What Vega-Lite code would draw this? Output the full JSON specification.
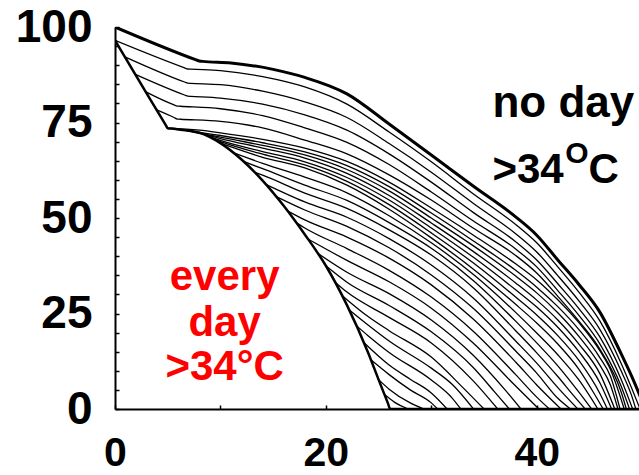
{
  "$schema": "https://vega.github.io/schema/vega-lite/v6.json",
  "width": 524,
  "height": 382,
  "autosize": {"type": "none"},
  "padding": {"left": 115, "top": 27, "right": 0, "bottom": 66},
  "background": "white",
  "config": {"view": {"stroke": null}, "font": "Liberation Sans"},
  "datasets": {
    "curves": [
      {"curve": "no day", "x": 0, "y": 100}, {"curve": "no day", "x": 7.7, "y": 91.4}, {"curve": "no day", "x": 8, "y": 91.1}, {"curve": "no day", "x": 8.3, "y": 91.0}, {"curve": "no day", "x": 11, "y": 90.6}, {"curve": "no day", "x": 15, "y": 88.9}, {"curve": "no day", "x": 18, "y": 86.8}, {"curve": "no day", "x": 22, "y": 82.5}, {"curve": "no day", "x": 26, "y": 74.6}, {"curve": "no day", "x": 30, "y": 66.5}, {"curve": "no day", "x": 34, "y": 58.3}, {"curve": "no day", "x": 38, "y": 50.3}, {"curve": "no day", "x": 40, "y": 45.5}, {"curve": "no day", "x": 42, "y": 39.0}, {"curve": "no day", "x": 44, "y": 32.6}, {"curve": "no day", "x": 46, "y": 25.3}, {"curve": "no day", "x": 48, "y": 14.5}, {"curve": "no day", "x": 49, "y": 8.6}, {"curve": "no day", "x": 50.3, "y": 0},

      {"curve": "every day", "x": 0, "y": 96.5}, {"curve": "every day", "x": 4.8, "y": 74.4}, {"curve": "every day", "x": 5, "y": 73.5}, {"curve": "every day", "x": 5.3, "y": 73.4}, {"curve": "every day", "x": 8, "y": 72.3}, {"curve": "every day", "x": 10, "y": 69.6}, {"curve": "every day", "x": 12, "y": 65.3}, {"curve": "every day", "x": 14, "y": 59.8}, {"curve": "every day", "x": 16, "y": 53.2}, {"curve": "every day", "x": 18, "y": 45.7}, {"curve": "every day", "x": 20, "y": 37.5}, {"curve": "every day", "x": 22, "y": 27.2}, {"curve": "every day", "x": 24, "y": 14.8}, {"curve": "every day", "x": 25, "y": 7.7}, {"curve": "every day", "x": 25.9, "y": 1.4}, {"curve": "every day", "x": 26.1, "y": 0}, {"curve": "every day", "x": 49.7, "y": 0},

      {"curve": "r1", "x": 0, "y": 96.5}, {"curve": "r1", "x": 6.6, "y": 89.3}, {"curve": "r1", "x": 6.9, "y": 89.0}, {"curve": "r1", "x": 7.2, "y": 88.95}, {"curve": "r1", "x": 10, "y": 88.6}, {"curve": "r1", "x": 14, "y": 87.0}, {"curve": "r1", "x": 18, "y": 84.3}, {"curve": "r1", "x": 22, "y": 79.8}, {"curve": "r1", "x": 26, "y": 72.5}, {"curve": "r1", "x": 30, "y": 64.7}, {"curve": "r1", "x": 34, "y": 56.3}, {"curve": "r1", "x": 38, "y": 48.3}, {"curve": "r1", "x": 40, "y": 43.5}, {"curve": "r1", "x": 42, "y": 37.2}, {"curve": "r1", "x": 44, "y": 30.6}, {"curve": "r1", "x": 46, "y": 23.0}, {"curve": "r1", "x": 48, "y": 12.0}, {"curve": "r1", "x": 49, "y": 5.5}, {"curve": "r1", "x": 49.8, "y": 0},

      {"curve": "r2", "x": 0.93, "y": 92.2}, {"curve": "r2", "x": 6.6, "y": 85.6}, {"curve": "r2", "x": 6.9, "y": 85.3}, {"curve": "r2", "x": 7.2, "y": 85.25}, {"curve": "r2", "x": 10, "y": 84.9}, {"curve": "r2", "x": 14, "y": 83.2}, {"curve": "r2", "x": 18, "y": 80.4}, {"curve": "r2", "x": 22, "y": 76.3}, {"curve": "r2", "x": 26, "y": 69.5}, {"curve": "r2", "x": 30, "y": 62.0}, {"curve": "r2", "x": 34, "y": 53.8}, {"curve": "r2", "x": 38, "y": 45.9}, {"curve": "r2", "x": 40, "y": 41.1}, {"curve": "r2", "x": 42, "y": 34.9}, {"curve": "r2", "x": 44, "y": 28.3}, {"curve": "r2", "x": 46, "y": 20.8}, {"curve": "r2", "x": 48, "y": 10.0}, {"curve": "r2", "x": 49, "y": 3.5}, {"curve": "r2", "x": 49.4, "y": 0},

      {"curve": "r3", "x": 1.93, "y": 87.6}, {"curve": "r3", "x": 6.6, "y": 82.2}, {"curve": "r3", "x": 6.9, "y": 81.9}, {"curve": "r3", "x": 7.2, "y": 81.85}, {"curve": "r3", "x": 10, "y": 81.4}, {"curve": "r3", "x": 14, "y": 79.8}, {"curve": "r3", "x": 18, "y": 77.0}, {"curve": "r3", "x": 22, "y": 73.0}, {"curve": "r3", "x": 26, "y": 66.8}, {"curve": "r3", "x": 30, "y": 59.4}, {"curve": "r3", "x": 34, "y": 51.4}, {"curve": "r3", "x": 38, "y": 43.8}, {"curve": "r3", "x": 40, "y": 39.0}, {"curve": "r3", "x": 42, "y": 32.8}, {"curve": "r3", "x": 44, "y": 26.3}, {"curve": "r3", "x": 46, "y": 18.8}, {"curve": "r3", "x": 48, "y": 7.8}, {"curve": "r3", "x": 49.1, "y": 0},

      {"curve": "r4", "x": 2.93, "y": 83.0}, {"curve": "r4", "x": 5.6, "y": 79.6}, {"curve": "r4", "x": 5.9, "y": 79.3}, {"curve": "r4", "x": 6.2, "y": 79.25}, {"curve": "r4", "x": 10, "y": 78.6}, {"curve": "r4", "x": 14, "y": 76.8}, {"curve": "r4", "x": 18, "y": 73.6}, {"curve": "r4", "x": 22, "y": 69.8}, {"curve": "r4", "x": 26, "y": 64.0}, {"curve": "r4", "x": 30, "y": 56.8}, {"curve": "r4", "x": 34, "y": 49.2}, {"curve": "r4", "x": 38, "y": 41.9}, {"curve": "r4", "x": 40, "y": 37.2}, {"curve": "r4", "x": 42, "y": 31.0}, {"curve": "r4", "x": 44, "y": 24.5}, {"curve": "r4", "x": 46, "y": 17.0}, {"curve": "r4", "x": 48, "y": 6.0}, {"curve": "r4", "x": 48.8, "y": 0},

      {"curve": "r5", "x": 3.96, "y": 78.3}, {"curve": "r5", "x": 5.6, "y": 76.3}, {"curve": "r5", "x": 5.9, "y": 75.9}, {"curve": "r5", "x": 6.2, "y": 75.85}, {"curve": "r5", "x": 10, "y": 75.3}, {"curve": "r5", "x": 14, "y": 73.6}, {"curve": "r5", "x": 18, "y": 70.4}, {"curve": "r5", "x": 22, "y": 66.8}, {"curve": "r5", "x": 26, "y": 61.3}, {"curve": "r5", "x": 30, "y": 54.7}, {"curve": "r5", "x": 34, "y": 47.3}, {"curve": "r5", "x": 38, "y": 40.2}, {"curve": "r5", "x": 40, "y": 35.6}, {"curve": "r5", "x": 42, "y": 29.5}, {"curve": "r5", "x": 44, "y": 23.0}, {"curve": "r5", "x": 46, "y": 15.6}, {"curve": "r5", "x": 48, "y": 4.5}, {"curve": "r5", "x": 48.5, "y": 0},

      {"curve": "b1", "x": 5, "y": 73.5}, {"curve": "b1", "x": 8, "y": 73.0}, {"curve": "b1", "x": 10, "y": 72.3}, {"curve": "b1", "x": 14, "y": 70.6}, {"curve": "b1", "x": 18, "y": 68.3}, {"curve": "b1", "x": 22, "y": 64.8}, {"curve": "b1", "x": 26, "y": 59.4}, {"curve": "b1", "x": 30, "y": 52.6}, {"curve": "b1", "x": 34, "y": 45.5}, {"curve": "b1", "x": 38, "y": 38.0}, {"curve": "b1", "x": 40, "y": 33.8}, {"curve": "b1", "x": 42, "y": 28.6}, {"curve": "b1", "x": 44, "y": 22.6}, {"curve": "b1", "x": 46, "y": 15.2}, {"curve": "b1", "x": 47, "y": 10.3}, {"curve": "b1", "x": 48.3, "y": 0},
      {"curve": "b2", "x": 6, "y": 73.2}, {"curve": "b2", "x": 10, "y": 71.6}, {"curve": "b2", "x": 14, "y": 69.7}, {"curve": "b2", "x": 18, "y": 67.3}, {"curve": "b2", "x": 22, "y": 63.7}, {"curve": "b2", "x": 26, "y": 58.2}, {"curve": "b2", "x": 30, "y": 51.3}, {"curve": "b2", "x": 34, "y": 44.0}, {"curve": "b2", "x": 38, "y": 36.3}, {"curve": "b2", "x": 40, "y": 31.9}, {"curve": "b2", "x": 42, "y": 26.8}, {"curve": "b2", "x": 44, "y": 20.8}, {"curve": "b2", "x": 46, "y": 13.4}, {"curve": "b2", "x": 47, "y": 8.5}, {"curve": "b2", "x": 47.9, "y": 0},
      {"curve": "b3", "x": 7, "y": 72.8}, {"curve": "b3", "x": 10, "y": 71.2}, {"curve": "b3", "x": 14, "y": 69.0}, {"curve": "b3", "x": 18, "y": 66.5}, {"curve": "b3", "x": 22, "y": 62.7}, {"curve": "b3", "x": 26, "y": 57.1}, {"curve": "b3", "x": 30, "y": 50.0}, {"curve": "b3", "x": 34, "y": 42.7}, {"curve": "b3", "x": 38, "y": 34.8}, {"curve": "b3", "x": 40, "y": 30.4}, {"curve": "b3", "x": 42, "y": 25.2}, {"curve": "b3", "x": 44, "y": 19.0}, {"curve": "b3", "x": 46, "y": 11.4}, {"curve": "b3", "x": 47, "y": 6.2}, {"curve": "b3", "x": 47.7, "y": 0},
      {"curve": "b4", "x": 7.8, "y": 72.4}, {"curve": "b4", "x": 10, "y": 70.8}, {"curve": "b4", "x": 14, "y": 68.3}, {"curve": "b4", "x": 18, "y": 65.7}, {"curve": "b4", "x": 22, "y": 61.7}, {"curve": "b4", "x": 26, "y": 55.9}, {"curve": "b4", "x": 30, "y": 48.7}, {"curve": "b4", "x": 34, "y": 41.2}, {"curve": "b4", "x": 38, "y": 33.0}, {"curve": "b4", "x": 40, "y": 28.5}, {"curve": "b4", "x": 42, "y": 23.3}, {"curve": "b4", "x": 44, "y": 17.0}, {"curve": "b4", "x": 46, "y": 9.2}, {"curve": "b4", "x": 47.4, "y": 0},
      {"curve": "b5", "x": 8.5, "y": 71.8}, {"curve": "b5", "x": 10, "y": 70.3}, {"curve": "b5", "x": 14, "y": 67.4}, {"curve": "b5", "x": 18, "y": 64.7}, {"curve": "b5", "x": 22, "y": 60.6}, {"curve": "b5", "x": 26, "y": 54.7}, {"curve": "b5", "x": 30, "y": 47.4}, {"curve": "b5", "x": 34, "y": 39.7}, {"curve": "b5", "x": 38, "y": 31.2}, {"curve": "b5", "x": 40, "y": 26.7}, {"curve": "b5", "x": 42, "y": 21.4}, {"curve": "b5", "x": 44, "y": 15.0}, {"curve": "b5", "x": 46, "y": 6.8}, {"curve": "b5", "x": 47.1, "y": 0},
      {"curve": "b6", "x": 9.2, "y": 70.8}, {"curve": "b6", "x": 10, "y": 70.0}, {"curve": "b6", "x": 14, "y": 66.7}, {"curve": "b6", "x": 18, "y": 63.9}, {"curve": "b6", "x": 22, "y": 59.6}, {"curve": "b6", "x": 26, "y": 53.5}, {"curve": "b6", "x": 30, "y": 46.1}, {"curve": "b6", "x": 34, "y": 38.2}, {"curve": "b6", "x": 38, "y": 29.3}, {"curve": "b6", "x": 40, "y": 24.6}, {"curve": "b6", "x": 42, "y": 19.2}, {"curve": "b6", "x": 44, "y": 12.7}, {"curve": "b6", "x": 46, "y": 4.0}, {"curve": "b6", "x": 46.7, "y": 0},
      {"curve": "b7", "x": 10, "y": 69.6}, {"curve": "b7", "x": 14, "y": 65.9}, {"curve": "b7", "x": 18, "y": 63.1}, {"curve": "b7", "x": 22, "y": 58.6}, {"curve": "b7", "x": 26, "y": 52.3}, {"curve": "b7", "x": 30, "y": 44.8}, {"curve": "b7", "x": 34, "y": 36.6}, {"curve": "b7", "x": 38, "y": 27.4}, {"curve": "b7", "x": 40, "y": 22.5}, {"curve": "b7", "x": 42, "y": 17.0}, {"curve": "b7", "x": 44, "y": 10.4}, {"curve": "b7", "x": 45.5, "y": 3.8}, {"curve": "b7", "x": 46.3, "y": 0},
      {"curve": "b8", "x": 11.2, "y": 67.1}, {"curve": "b8", "x": 14, "y": 64.3}, {"curve": "b8", "x": 18, "y": 60.7}, {"curve": "b8", "x": 22, "y": 56.6}, {"curve": "b8", "x": 26, "y": 50.6}, {"curve": "b8", "x": 30, "y": 43.5}, {"curve": "b8", "x": 34, "y": 35.2}, {"curve": "b8", "x": 38, "y": 25.3}, {"curve": "b8", "x": 40, "y": 19.9}, {"curve": "b8", "x": 42, "y": 14.2}, {"curve": "b8", "x": 44, "y": 7.6}, {"curve": "b8", "x": 45.8, "y": 0},
      {"curve": "b9", "x": 12.2, "y": 64.8}, {"curve": "b9", "x": 14, "y": 62.9}, {"curve": "b9", "x": 18, "y": 58.6}, {"curve": "b9", "x": 22, "y": 54.6}, {"curve": "b9", "x": 26, "y": 48.8}, {"curve": "b9", "x": 30, "y": 42.1}, {"curve": "b9", "x": 34, "y": 33.6}, {"curve": "b9", "x": 38, "y": 23.0}, {"curve": "b9", "x": 40, "y": 17.3}, {"curve": "b9", "x": 42, "y": 11.3}, {"curve": "b9", "x": 44, "y": 4.4}, {"curve": "b9", "x": 45.2, "y": 0},
      {"curve": "b10", "x": 13.2, "y": 62.0}, {"curve": "b10", "x": 14, "y": 61.2}, {"curve": "b10", "x": 18, "y": 56.5}, {"curve": "b10", "x": 22, "y": 52.5}, {"curve": "b10", "x": 26, "y": 46.9}, {"curve": "b10", "x": 30, "y": 40.3}, {"curve": "b10", "x": 34, "y": 31.7}, {"curve": "b10", "x": 38, "y": 20.5}, {"curve": "b10", "x": 40, "y": 14.7}, {"curve": "b10", "x": 42, "y": 8.5}, {"curve": "b10", "x": 43.5, "y": 3.5}, {"curve": "b10", "x": 44.6, "y": 0},
      {"curve": "b11", "x": 14.3, "y": 58.8}, {"curve": "b11", "x": 18, "y": 54.2}, {"curve": "b11", "x": 22, "y": 50.2}, {"curve": "b11", "x": 26, "y": 44.6}, {"curve": "b11", "x": 30, "y": 37.7}, {"curve": "b11", "x": 34, "y": 29.0}, {"curve": "b11", "x": 38, "y": 17.8}, {"curve": "b11", "x": 40, "y": 12.0}, {"curve": "b11", "x": 42, "y": 5.6}, {"curve": "b11", "x": 43.9, "y": 0},
      {"curve": "b12", "x": 15.3, "y": 55.6}, {"curve": "b12", "x": 18, "y": 52.1}, {"curve": "b12", "x": 22, "y": 47.8}, {"curve": "b12", "x": 26, "y": 42.2}, {"curve": "b12", "x": 30, "y": 35.1}, {"curve": "b12", "x": 34, "y": 26.3}, {"curve": "b12", "x": 38, "y": 15.2}, {"curve": "b12", "x": 40, "y": 9.4}, {"curve": "b12", "x": 42, "y": 2.8}, {"curve": "b12", "x": 43.2, "y": 0},
      {"curve": "b13", "x": 16.4, "y": 51.8}, {"curve": "b13", "x": 18, "y": 49.5}, {"curve": "b13", "x": 22, "y": 45.0}, {"curve": "b13", "x": 26, "y": 39.5}, {"curve": "b13", "x": 30, "y": 32.5}, {"curve": "b13", "x": 34, "y": 23.5}, {"curve": "b13", "x": 38, "y": 12.3}, {"curve": "b13", "x": 40, "y": 6.3}, {"curve": "b13", "x": 42.3, "y": 0},
      {"curve": "b14", "x": 17.3, "y": 48.6}, {"curve": "b14", "x": 18, "y": 47.4}, {"curve": "b14", "x": 22, "y": 42.0}, {"curve": "b14", "x": 26, "y": 36.3}, {"curve": "b14", "x": 30, "y": 29.3}, {"curve": "b14", "x": 34, "y": 20.3}, {"curve": "b14", "x": 38, "y": 9.0}, {"curve": "b14", "x": 40, "y": 3.1}, {"curve": "b14", "x": 41.2, "y": 0},
      {"curve": "b15", "x": 18.3, "y": 44.5}, {"curve": "b15", "x": 22, "y": 38.9}, {"curve": "b15", "x": 26, "y": 33.3}, {"curve": "b15", "x": 30, "y": 26.4}, {"curve": "b15", "x": 34, "y": 17.2}, {"curve": "b15", "x": 38, "y": 6.0}, {"curve": "b15", "x": 40.2, "y": 0},
      {"curve": "b16", "x": 19.2, "y": 40.8}, {"curve": "b16", "x": 22, "y": 35.8}, {"curve": "b16", "x": 26, "y": 30.2}, {"curve": "b16", "x": 30, "y": 23.3}, {"curve": "b16", "x": 34, "y": 14.0}, {"curve": "b16", "x": 37, "y": 5.0}, {"curve": "b16", "x": 38.5, "y": 0},
      {"curve": "b17", "x": 20.0, "y": 37.5}, {"curve": "b17", "x": 22, "y": 33.2}, {"curve": "b17", "x": 26, "y": 27.1}, {"curve": "b17", "x": 30, "y": 20.2}, {"curve": "b17", "x": 34, "y": 10.8}, {"curve": "b17", "x": 36, "y": 4.5}, {"curve": "b17", "x": 37.4, "y": 0},
      {"curve": "b18", "x": 20.8, "y": 33.4}, {"curve": "b18", "x": 22, "y": 30.6}, {"curve": "b18", "x": 26, "y": 24.0}, {"curve": "b18", "x": 30, "y": 17.3}, {"curve": "b18", "x": 34, "y": 7.3}, {"curve": "b18", "x": 36.3, "y": 0},
      {"curve": "b19", "x": 21.5, "y": 29.8}, {"curve": "b19", "x": 24, "y": 24.2}, {"curve": "b19", "x": 26, "y": 20.5}, {"curve": "b19", "x": 30, "y": 13.6}, {"curve": "b19", "x": 33, "y": 5.6}, {"curve": "b19", "x": 35.0, "y": 0},
      {"curve": "b20", "x": 22.2, "y": 26.0}, {"curve": "b20", "x": 24, "y": 22.0}, {"curve": "b20", "x": 26, "y": 17.8}, {"curve": "b20", "x": 30, "y": 10.7}, {"curve": "b20", "x": 32, "y": 6.4}, {"curve": "b20", "x": 34.0, "y": 0},
      {"curve": "b21", "x": 22.9, "y": 21.8}, {"curve": "b21", "x": 24, "y": 19.2}, {"curve": "b21", "x": 26, "y": 14.8}, {"curve": "b21", "x": 30, "y": 7.6}, {"curve": "b21", "x": 32, "y": 2.8}, {"curve": "b21", "x": 32.8, "y": 0},
      {"curve": "b22", "x": 23.6, "y": 17.4}, {"curve": "b22", "x": 26, "y": 11.5}, {"curve": "b22", "x": 28, "y": 7.8}, {"curve": "b22", "x": 30, "y": 4.2}, {"curve": "b22", "x": 31.5, "y": 0},
      {"curve": "b23", "x": 24.3, "y": 12.8}, {"curve": "b23", "x": 26, "y": 9.0}, {"curve": "b23", "x": 28, "y": 5.0}, {"curve": "b23", "x": 30, "y": 1.6}, {"curve": "b23", "x": 30.6, "y": 0},
      {"curve": "b24", "x": 25.0, "y": 7.7}, {"curve": "b24", "x": 26, "y": 5.2}, {"curve": "b24", "x": 28, "y": 1.6}, {"curve": "b24", "x": 29.3, "y": 0},
      {"curve": "b25", "x": 25.6, "y": 3.7}, {"curve": "b25", "x": 26.5, "y": 1.8}, {"curve": "b25", "x": 27.8, "y": 0}
    ],
    "notes": [
      {"group": "black", "x": 35.8, "y": 76.4, "text": "no day"},
      {"group": "black3", "x": 35.8, "y": 59.2, "text": ">34"},
      {"group": "sup", "x": 42.7, "y": 64.5, "text": "O"},
      {"group": "black3", "x": 44.9, "y": 59.2, "text": "C"},
      {"group": "red", "x": 10.4, "y": 31.2, "text": "every"},
      {"group": "red", "x": 10.4, "y": 19.1, "text": "day"},
      {"group": "red", "x": 10.4, "y": 7.6, "text": ">34°C"}
    ]
  },
  "encoding": {
    "x": {
      "field": "x",
      "type": "quantitative",
      "scale": {"domain": [0, 49.7], "nice": false, "zero": false},
      "axis": {
        "title": null,
        "grid": false,
        "values": [0, 10, 20, 30, 40],
        "labelExpr": "datum.value % 20 == 0 ? datum.label : ''",
        "labelFlush": false,
        "labelOverlap": false,
        "labelFont": "Liberation Sans",
        "labelFontWeight": "bold",
        "labelFontSize": 41,
        "labelColor": "black",
        "labelPadding": 28,
        "tickSize": -4,
        "tickWidth": 1.5,
        "tickColor": "black",
        "domainColor": "black",
        "domainWidth": 2
      }
    },
    "y": {
      "field": "y",
      "type": "quantitative",
      "scale": {"domain": [0, 100], "nice": false},
      "axis": {
        "title": null,
        "grid": false,
        "values": [0, 5, 10, 15, 20, 25, 30, 35, 40, 45, 50, 55, 60, 65, 70, 75, 80, 85, 90, 95, 100],
        "labelExpr": "datum.value % 25 == 0 ? datum.label : ''",
        "labelOverlap": false,
        "labelFlush": false,
        "labelFont": "Liberation Sans",
        "labelFontWeight": "bold",
        "labelFontSize": 46,
        "labelColor": "black",
        "labelPadding": 27,
        "tickSize": -4,
        "tickWidth": 1.5,
        "tickColor": "black",
        "domainColor": "black",
        "domainWidth": 2
      }
    }
  },
  "layer": [
    {
      "data": {"name": "curves"},
      "transform": [{"filter": "datum.curve != 'no day' && datum.curve != 'every day'"}],
      "mark": {"type": "line", "color": "black", "strokeWidth": 1.3, "interpolate": "monotone", "clip": true},
      "encoding": {"detail": {"field": "curve"}}
    },
    {
      "data": {"name": "curves"},
      "transform": [{"filter": "datum.curve == 'no day'"}],
      "mark": {"type": "line", "color": "black", "strokeWidth": 3, "interpolate": "monotone", "clip": true},
      "encoding": {}
    },
    {
      "data": {"name": "curves"},
      "transform": [{"filter": "datum.curve == 'every day'"}],
      "mark": {"type": "line", "color": "black", "strokeWidth": 2.5, "interpolate": "monotone", "clip": true},
      "encoding": {}
    },
    {
      "data": {"name": "notes"},
      "transform": [{"filter": "datum.group == 'black'"}],
      "mark": {"type": "text", "align": "left", "baseline": "alphabetic", "font": "Liberation Sans", "fontWeight": "bold", "fontSize": 44, "color": "black"},
      "encoding": {"text": {"field": "text"}}
    },
    {
      "data": {"name": "notes"},
      "transform": [{"filter": "datum.group == 'black3'"}],
      "mark": {"type": "text", "align": "left", "baseline": "alphabetic", "font": "Liberation Sans", "fontWeight": "bold", "fontSize": 42, "color": "black"},
      "encoding": {"text": {"field": "text"}}
    },
    {
      "data": {"name": "notes"},
      "transform": [{"filter": "datum.group == 'sup'"}],
      "mark": {"type": "text", "align": "left", "baseline": "alphabetic", "font": "Liberation Sans", "fontWeight": "bold", "fontSize": 30, "color": "black"},
      "encoding": {"text": {"field": "text"}}
    },
    {
      "data": {"name": "notes"},
      "transform": [{"filter": "datum.group == 'red'"}],
      "mark": {"type": "text", "align": "center", "baseline": "alphabetic", "font": "Liberation Sans", "fontWeight": "bold", "fontSize": 42, "color": "#ff0000"},
      "encoding": {"text": {"field": "text"}}
    }
  ]
}
